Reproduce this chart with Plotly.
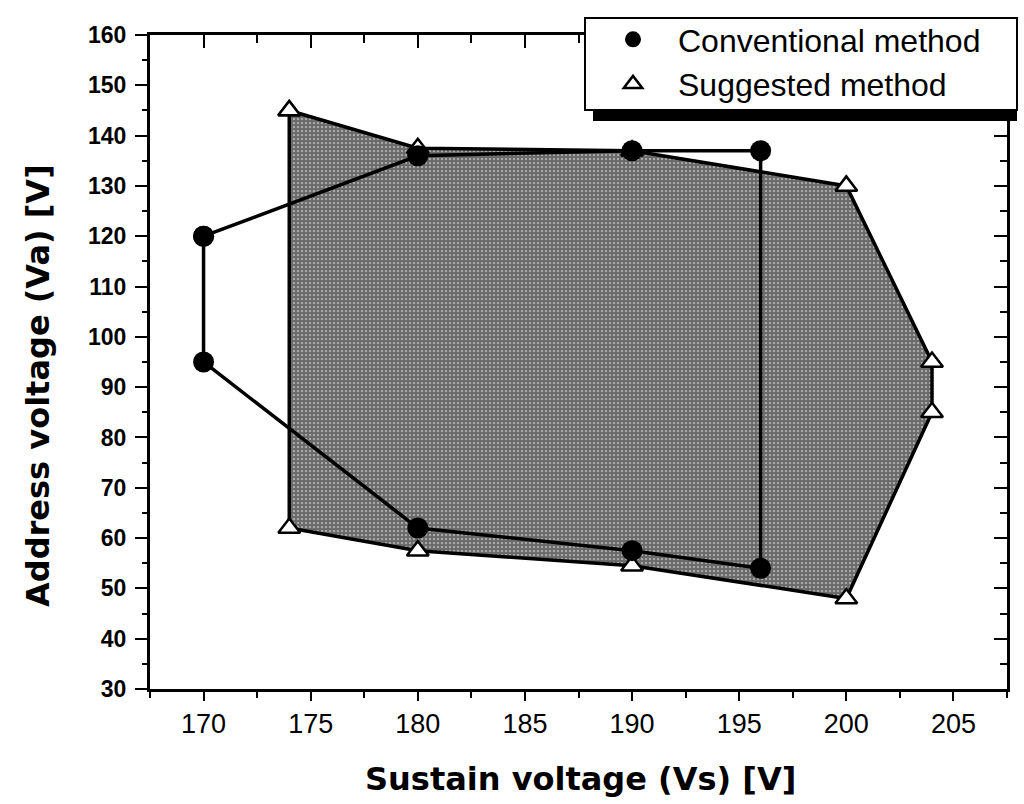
import plotly.graph_objects as go

# Data
conv_vs = [170, 180, 190, 196, 196, 190, 180, 170, 170]
conv_va = [120, 136, 137, 137, 54, 57.5, 62, 95, 120]

sugg_vs = [174, 180, 190, 200, 204, 204, 200, 190, 180, 174, 174]
sugg_va = [145, 137.5, 137, 130, 95, 85, 48, 54.5, 57.5, 62, 145]

x_ticks = [170, 175, 180, 185, 190, 195, 200, 205]
y_ticks = [30, 40, 50, 60, 70, 80, 90, 100, 110, 120, 130, 140, 150, 160]

L, R, T, B = 150, 1007, 35, 689
W, H = 1024, 804
PW, PH = R - L, B - T

def px_x(p):
    return (p - L) / PW

def px_y(p):
    return (B - p) / PH

fig = go.Figure()

# Suggested method: filled stippled region
fig.add_trace(go.Scatter(
    x=sugg_vs, y=sugg_va, mode="lines+markers", fill="toself",
    fillcolor="rgba(0,0,0,0)",
    fillpattern=dict(shape=".", size=4, solidity=0.8, fgcolor="black", bgcolor="#d4d4d4"),
    line=dict(color="black", width=3.5),
    marker=dict(symbol="triangle-up", size=19, color="white", line=dict(color="black", width=2.5)),
    showlegend=False, hoverinfo="skip",
))

# Conventional method
fig.add_trace(go.Scatter(
    x=conv_vs, y=conv_va, mode="lines+markers",
    line=dict(color="black", width=3.5),
    marker=dict(symbol="circle", size=21, color="black"),
    showlegend=False, hoverinfo="skip",
))

# Legend entries
fig.add_trace(go.Scatter(
    x=[None], y=[None], mode="markers", name="Conventional method",
    marker=dict(symbol="circle", size=21, color="black"),
))
fig.add_trace(go.Scatter(
    x=[None], y=[None], mode="markers", name="Suggested method",
    marker=dict(symbol="triangle-up", size=19, color="white", line=dict(color="black", width=2.5)),
))

# Mirror axes (ticks inside)
fig.add_trace(go.Scatter(x=[None], y=[None], xaxis="x2", yaxis="y2",
                         showlegend=False, hoverinfo="skip"))

tickfont_x = dict(family="Liberation Sans, Arial", size=27, color="black")
tickfont_y = dict(family="Liberation Sans, Arial", size=23, color="black", weight="bold")

fig.update_layout(
    width=W, height=H,
    margin=dict(l=L, r=W - R, t=T, b=H - B, pad=0),
    paper_bgcolor="white", plot_bgcolor="white",
    xaxis=dict(
        range=[167.5, 207.5], tickmode="array", tickvals=x_ticks,
        ticks="outside", ticklen=9, tickwidth=2, tickcolor="black",
        showline=True, linecolor="black", linewidth=3, mirror=False,
        showgrid=False, zeroline=False, tickfont=tickfont_x,
        ticklabelstandoff=0,
        minor=dict(dtick=2.5, tick0=167.5, ticks="outside", ticklen=6, tickwidth=2, tickcolor="black", showgrid=False),
    ),
    yaxis=dict(
        range=[30, 160], tickmode="array", tickvals=y_ticks,
        ticks="outside", ticklen=12, tickwidth=2, tickcolor="black",
        showline=True, linecolor="black", linewidth=3,
        showgrid=False, zeroline=False, tickfont=tickfont_y,
        ticklabelstandoff=4,
        minor=dict(dtick=5, tick0=30, ticks="outside", ticklen=5, tickwidth=2, tickcolor="black", showgrid=False),
    ),
    xaxis2=dict(
        overlaying="x", side="top", anchor="y", range=[167.5, 207.5],
        tickmode="array", tickvals=x_ticks, ticks="inside", ticklen=13, tickwidth=2,
        tickcolor="black", showticklabels=False, showline=True, linecolor="black",
        linewidth=3, showgrid=False, zeroline=False,
        minor=dict(dtick=2.5, tick0=167.5, ticks="inside", ticklen=8, tickwidth=2, tickcolor="black", showgrid=False),
    ),
    yaxis2=dict(
        overlaying="y", side="right", anchor="x", range=[30, 160],
        tickmode="array", tickvals=y_ticks, ticks="inside", ticklen=13, tickwidth=2,
        tickcolor="black", showticklabels=False, showline=True, linecolor="black",
        linewidth=3, showgrid=False, zeroline=False,
        minor=dict(dtick=5, tick0=30, ticks="inside", ticklen=7, tickwidth=2, tickcolor="black", showgrid=False),
    ),
    legend=dict(
        x=px_x(588), y=px_y(12), xanchor="left", yanchor="top",
        bgcolor="rgba(0,0,0,0)", borderwidth=0,
        font=dict(family="Liberation Sans, Arial", size=32, color="black"),
        itemwidth=80, tracegroupgap=0,
    ),
    showlegend=True,
    annotations=[
        dict(text="Sustain voltage (Vs) [V]", xref="paper", yref="paper",
             x=px_x(580), y=px_y(779), xanchor="center", yanchor="middle",
             showarrow=False,
             font=dict(family="DejaVu Sans", size=32, color="black", weight="bold")),
        dict(text="Address voltage (Va) [V]", xref="paper", yref="paper",
             x=px_x(38), y=px_y(386), xanchor="center", yanchor="middle",
             textangle=-90, showarrow=False,
             font=dict(family="DejaVu Sans", size=32, color="black", weight="bold")),
    ],
    shapes=[
        # legend shadow
        dict(type="rect", xref="paper", yref="paper",
             x0=px_x(593), x1=px_x(1017), y0=px_y(121), y1=px_y(100),
             fillcolor="black", line=dict(width=0), layer="above"),
        # legend box
        dict(type="rect", xref="paper", yref="paper",
             x0=px_x(585), x1=px_x(1017), y0=px_y(110), y1=px_y(18),
             fillcolor="white", line=dict(color="black", width=2), layer="above"),
    ],
)

fig.write_html("out.html")
